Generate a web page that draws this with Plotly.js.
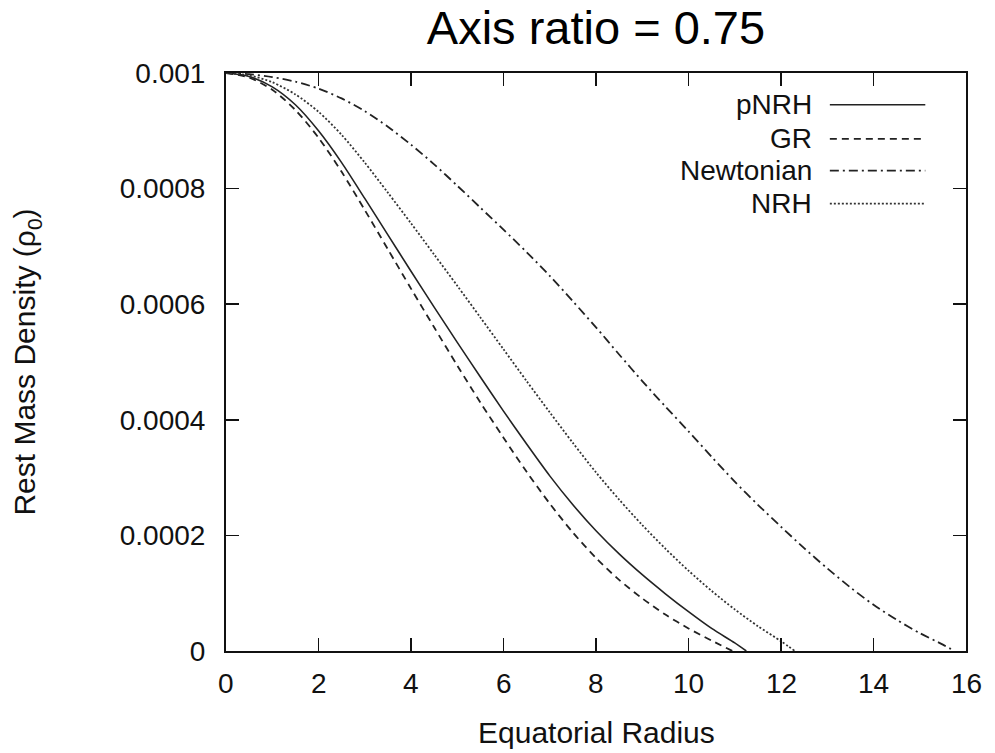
<!DOCTYPE html>
<html>
<head>
<meta charset="utf-8">
<script src="https://cdn.plot.ly/plotly-3.0.1.min.js"></script>
<style>html,body{margin:0;padding:0;background:#fff;}#chart{width:995px;height:753px;}</style>
</head>
<body>
<div id="chart"></div>
<script>
// ---- data (density in units of 1e-3 rho0) ----
const pnrhX = [0,0.5,1,1.5,2,2.5,3,3.5,4,4.5,5,5.5,6,6.5,7,7.5,8,8.5,9,9.5,10,10.5,11,11.25];
const pnrhY = [1.0,0.994,0.976,0.945,0.9,0.845,0.783,0.72,0.657,0.595,0.534,0.474,0.415,0.358,0.303,0.253,0.208,0.168,0.132,0.099,0.068,0.039,0.014,0];

const grX = [0,0.5,1,1.5,2,2.5,3,3.5,4,4.5,5,5.5,6,6.5,7,7.5,8,8.5,9,9.5,10,10.5,10.95];
const grY = [1.0,0.992,0.971,0.936,0.888,0.829,0.763,0.695,0.627,0.56,0.494,0.43,0.369,0.31,0.255,0.205,0.161,0.123,0.091,0.063,0.039,0.018,0];

const newtX = [0,0.5,1,1.5,2,2.5,3,3.5,4,4.5,5,5.5,6,6.5,7,7.5,8,8.5,9,9.5,10,10.5,11,11.5,12,12.5,13,13.5,14,14.5,15,15.5,15.75];
const newtY = [1.0,0.998,0.993,0.985,0.973,0.956,0.934,0.907,0.876,0.842,0.805,0.767,0.729,0.69,0.649,0.605,0.56,0.513,0.467,0.423,0.38,0.336,0.293,0.253,0.215,0.178,0.143,0.110,0.080,0.054,0.031,0.011,0];

const nrhX = [0,0.5,1,1.5,2,2.5,3,3.5,4,4.5,5,5.5,6,6.5,7,7.5,8,8.5,9,9.5,10,10.5,11,11.5,12,12.3];
const nrhY = [1.0,0.996,0.984,0.963,0.933,0.893,0.845,0.793,0.74,0.686,0.632,0.577,0.522,0.467,0.413,0.36,0.309,0.262,0.218,0.177,0.139,0.104,0.072,0.043,0.017,0];

const seriesNames = ["pNRH","GR","Newtonian","NRH"];
const yTickVals = [0,0.0002,0.0004,0.0006,0.0008,0.001];
const yTickText = ["0","0.0002","0.0004","0.0006","0.0008","0.001"];
const xTickVals = [0,2,4,6,8,10,12,14,16];
const xTickText = ["0","2","4","6","8","10","12","14","16"];
const xTitle = "Equatorial Radius";

const scale = v => v.map(d => d * 1e-3);
const FONT = "Liberation Sans, Arial, Helvetica, sans-serif";
const dashes = ["solid", "7px,5px", "9px,4px,2px,4px", "2px,2px"];
const widths = [1.6, 1.8, 1.8, 1.8];
const colors = ["#222","#222","#222","#333"];
const xs = [pnrhX, grX, newtX, nrhX];
const ys = [pnrhY, grY, newtY, nrhY];

const traces = seriesNames.map((n,i) => ({
  x: xs[i], y: scale(ys[i]), name: n, type: "scatter", mode: "lines",
  line: {color: colors[i], width: widths[i], dash: dashes[i], shape: "spline", smoothing: 0.8},
  showlegend: false, hoverinfo: "skip"
}));

// gnuplot-style legend (text on the left, line sample on the right)
const legY = [0.945, 0.886, 0.831, 0.774];
const annotations = seriesNames.map((n,i) => ({
  xref: "paper", yref: "paper", x: 0.795, y: legY[i], xanchor: "right", yanchor: "middle",
  text: n, showarrow: false, font: {family: FONT, size: 28, color: "#111"}
}));
// x tick labels, placed at the tick values on the x axis scale, a little further below the axis
xTickVals.forEach((v,i) => annotations.push({
  xref: "x", yref: "paper", x: v, y: -0.056, xanchor: "center", yanchor: "middle",
  text: xTickText[i], showarrow: false, font: {family: FONT, size: 28, color: "#111"}
}));
// x axis title
annotations.push({
  xref: "paper", yref: "paper", x: 0.5, y: -0.141, xanchor: "center", yanchor: "middle",
  text: xTitle, showarrow: false, font: {family: FONT, size: 30, color: "#111"}
});
const shapes = seriesNames.map((n,i) => ({
  type: "line", xref: "paper", yref: "paper", x0: 0.816, x1: 0.945, y0: legY[i], y1: legY[i],
  line: {color: colors[i], width: widths[i], dash: dashes[i]}
}));

const layout = {
  width: 995, height: 753,
  margin: {l: 226, r: 29, t: 73, b: 102},
  paper_bgcolor: "#fff", plot_bgcolor: "#fff",
  font: {family: FONT, color: "#111", size: 28},
  title: {text: "Axis ratio = 0.75", font: {family: FONT, size: 47, color: "#000"},
          xref: "paper", x: 0.5, xanchor: "center", yref: "container", y: 0.963, yanchor: "middle"},
  xaxis: {
    range: [0,16], tickvals: xTickVals, ticks: "inside", ticklen: 13, tickwidth: 1.5, tickcolor: "#111",
    showline: true, linecolor: "#111", linewidth: 2, mirror: "ticks", showgrid: false, zeroline: false,
    showticklabels: false
  },
  yaxis: {
    range: [0,0.001], tickvals: yTickVals, ticktext: yTickText, ticks: "inside", ticklen: 13, tickwidth: 1.5, tickcolor: "#111",
    showline: true, linecolor: "#111", linewidth: 2, mirror: "ticks", showgrid: false, zeroline: false,
    tickfont: {family: FONT, size: 28, color: "#111"}, ticklabelstandoff: 13,
    title: {text: "Rest Mass Density (ρ<sub>0</sub>)", font: {family: FONT, size: 30, color: "#111"}, standoff: 75}
  },
  annotations: annotations,
  shapes: shapes
};

Plotly.newPlot("chart", traces, layout, {displayModeBar: false, staticPlot: true});
</script>
</body>
</html>
